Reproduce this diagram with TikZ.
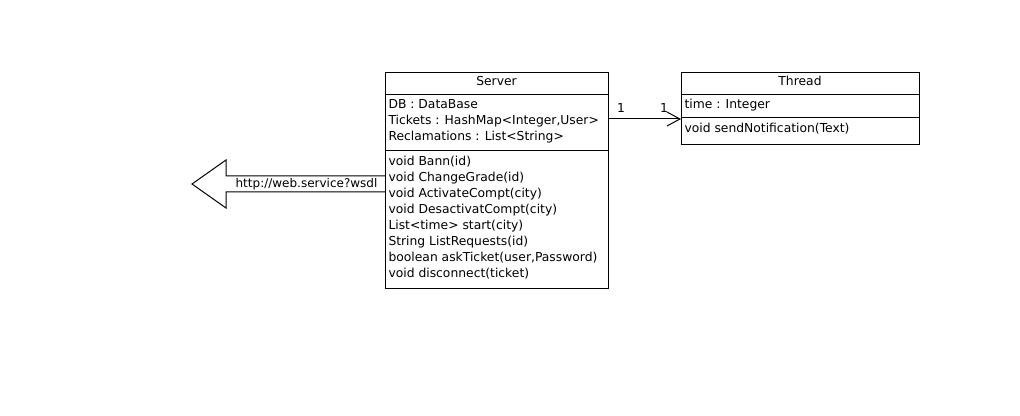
\documentclass[tikz,border=0pt]{standalone}
\usepackage{fontspec}
\setmainfont{DejaVu Sans}
\usetikzlibrary{arrows.meta}
\begin{document}
\begin{tikzpicture}[x=0.75pt,y=-0.75pt,
  line width=0.75pt,
  umlbox/.style={draw,rectangle,inner sep=0pt,anchor=north west},
  member/.style={anchor=base west,inner sep=0pt,font=\fontsize{9.25}{12}\selectfont},
  ctitle/.style={anchor=base,inner sep=0pt,font=\fontsize{9.25}{12}\selectfont},
  mult/.style={anchor=base,inner sep=0pt,font=\fontsize{9.25}{12}\selectfont}]
\useasboundingbox (0,0) rectangle (1020,416);
\fill[white] (0,0) rectangle (1020,416);

% Server class
\node[umlbox,minimum width=223*0.75pt,minimum height=216*0.75pt] (server) at (385,72) {};
\draw (385,95) -- (608,95);
\draw (385,151) -- (608,151);
\node[ctitle] (stitle) at (496.5,86) {Server};
\node[member] (s1) at (388,109) {DB : DataBase};
\node[member] (s2) at (388,125) {Tickets : HashMap<Integer,User>};
\node[member] (s3) at (388,141) {Reclamations : List<String>};
\node[member] (m1) at (388,166) {void Bann(id)};
\node[member] (m2) at (388,182) {void ChangeGrade(id)};
\node[member] (m3) at (388,198) {void ActivateCompt(city)};
\node[member] (m4) at (388,214) {void DesactivatCompt(city)};
\node[member] (m5) at (388,230) {List<time> start(city)};
\node[member] (m6) at (388,246) {String ListRequests(id)};
\node[member] (m7) at (388,262) {boolean askTicket(user,Password)};
\node[member] (m8) at (388,278) {void disconnect(ticket)};

% Thread class
\node[umlbox,minimum width=238*0.75pt,minimum height=72*0.75pt] (thread) at (681,72) {};
\draw (681,95) -- (919,95);
\draw (681,118) -- (919,118);
\node[ctitle] (ttitle) at (800,86) {Thread};
\node[member] (t1) at (684,109) {time : Integer};
\node[member] (t2) at (684,133) {void sendNotification(Text)};

% association Server -> Thread
\coordinate (assocA) at (608,119);
\coordinate (assocB) at (681,119);
\draw[-{Straight Barb[length=9.75pt,width=10.5pt,line width=0.75pt]}] (assocA) -- (assocB);
\node[mult] (mA) at (621,113) {1};
\node[mult] (mB) at (664,113) {1};

% provided web service interface
\coordinate (wsBase) at (385,176);
\draw[line join=miter] (wsBase) -- (226,176) -- (226,160) -- (192,184) -- (226,208) -- (226,192) -- (385,192);
\node[anchor=base,inner sep=0pt,font=\fontsize{9}{12}\selectfont] (wsdl) at (306.5,188) {http://web.service?wsdl};
\end{tikzpicture}
\end{document}
